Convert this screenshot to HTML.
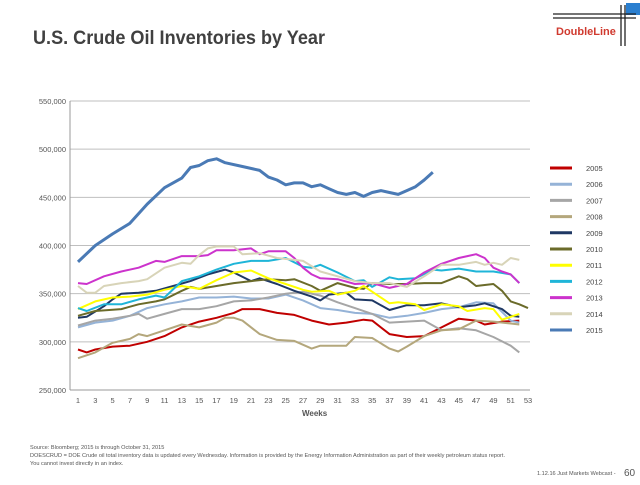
<!DOCTYPE html>
<html><head><meta charset="utf-8"><style>
body{margin:0;background:#fff;width:640px;height:480px;overflow:hidden;font-family:"Liberation Sans",sans-serif;}
svg text{font-family:"Liberation Sans",sans-serif;}
</style></head><body>
<svg id="c" width="640" height="480">
<text x="33" y="44" font-size="19" font-weight="bold" fill="#404040" textLength="292" lengthAdjust="spacingAndGlyphs">U.S. Crude Oil Inventories by Year</text>
<g>
<rect x="626" y="3" width="14" height="12" fill="#2a7fd0"/>
<line x1="553" y1="14" x2="636" y2="14" stroke="#222" stroke-width="1.3"/>
<line x1="553" y1="18" x2="636" y2="18" stroke="#222" stroke-width="1.3"/>
<line x1="621" y1="5" x2="621" y2="46" stroke="#222" stroke-width="1.3"/>
<line x1="625" y1="5" x2="625" y2="46" stroke="#222" stroke-width="1.3"/>
<text x="556" y="35" font-size="11" font-weight="bold" fill="#d03a2f">DoubleLine</text>
</g>
<g id="grid"></g><g id="axes"></g><g id="series"></g><g id="legend"></g>
<text x="302" y="416" font-size="8" font-weight="bold" fill="#555">Weeks</text>
<g font-size="5.6" fill="#555">
<text x="30" y="449">Source: Bloomberg; 2015 is through October 31, 2015</text>
<text x="30" y="457">DOESCRUD = DOE Crude oil total inventory data is updated every Wednesday. Information is provided by the Energy Information Administration as part of their weekly petroleum status report.</text>
<text x="30" y="465">You cannot invest directly in an index.</text>
</g>
<text x="537" y="475" font-size="5.6" fill="#555">1.12.16 Just Markets Webcast -</text>
<text x="624" y="476" font-size="10" fill="#555">60</text>
</svg>
<script>
const yTicks=[250000,300000,350000,400000,450000,500000,550000];
const yTickLabels=["250,000","300,000","350,000","400,000","450,000","500,000","550,000"];
const xTicks=[1,3,5,7,9,11,13,15,17,19,21,23,25,27,29,31,33,35,37,39,41,43,45,47,49,51,53];
const seriesNames=["2005","2006","2007","2008","2009","2010","2011","2012","2013","2014","2015"];
const seriesColors=["#c00000","#95b3d7","#a6a6a6","#b4a77c","#1f3864","#6b6b2a","#ffff00","#1fb5d8","#cc33cc","#d8d4b8","#4a7ab5"];
const w2005=[1,2,3,5,7,9,11,13,15,17,19,20,22,24,26,28,30,32,34,35,37,39,41,43,45,47,48,50,52];
const v2005=[292,289,292,295,296,300,306,315,321,325,330,334,334,330,328,322,318,320,323,322,308,305,306,315,324,322,318,321,322];
const w2006=[1,3,5,7,9,11,13,15,17,19,21,23,25,27,29,31,33,35,37,39,41,43,45,47,49,51,52];
const v2006=[315,320,322,327,335,339,342,346,346,347,345,345,349,343,335,333,330,329,325,327,330,334,336,341,340,322,320];
const w2007=[1,3,5,7,8,9,11,13,15,17,19,21,23,25,27,29,31,33,35,37,39,41,43,45,47,49,51,52];
const v2007=[317,322,324,327,329,324,329,334,334,337,342,343,346,350,352,348,341,335,329,320,321,322,312,314,312,305,296,289];
const w2008=[1,3,5,7,8,9,11,13,15,17,18,19,20,22,24,26,28,29,31,32,33,35,37,38,39,41,43,45,47,49,51,52];
const v2008=[283,289,299,303,308,306,312,318,315,320,325,325,322,308,302,301,293,296,296,296,305,304,293,290,295,306,312,313,322,321,319,318];
const w2009=[1,2,4,5,6,8,10,12,14,16,18,19,21,22,24,26,28,29,30,32,33,35,37,39,41,43,45,47,48,50,51,52];
const v2009=[325,326,337,344,350,351,353,358,363,370,375,372,363,366,360,353,347,343,349,351,344,343,333,338,338,340,336,338,340,334,327,326];
const w2010=[1,3,6,8,10,11,13,14,15,17,19,21,23,25,26,28,29,31,33,34,35,37,39,41,43,45,46,47,49,50,51,52,53];
const v2010=[327,332,334,339,342,344,353,357,355,358,361,363,365,364,365,358,353,361,356,355,361,360,360,361,361,368,365,358,360,353,342,339,335];
const w2011=[1,3,5,7,9,11,13,15,17,19,21,23,25,27,28,30,31,33,34,35,37,38,40,41,43,45,46,48,49,50,52];
const v2011=[334,342,346,347,349,354,358,355,364,372,374,366,360,354,352,353,349,353,358,352,340,341,339,333,339,337,332,335,334,323,329];
const w2012=[1,2,4,6,8,10,11,13,15,17,19,21,23,25,27,28,29,31,33,34,35,37,38,40,42,43,45,47,49,51,52];
const v2012=[335,332,339,339,344,348,346,363,368,375,381,384,384,387,378,377,380,372,363,364,357,367,365,366,375,374,376,373,373,370,361];
const w2013=[1,2,4,6,8,10,11,13,15,16,17,19,21,22,23,25,26,27,28,29,31,33,35,37,39,41,43,45,46,47,48,49,50,51,52];
const v2013=[361,360,368,373,377,384,383,389,389,390,395,395,397,391,394,394,387,377,370,366,365,360,361,356,360,372,381,387,389,391,387,377,373,370,361];
const w2014=[1,2,3,4,6,8,9,11,13,14,15,16,17,19,20,22,24,26,27,29,31,33,35,37,39,41,43,45,47,48,49,50,51,52];
const v2014=[358,351,351,358,361,363,365,377,382,381,390,397,399,399,391,392,387,385,384,373,368,363,361,361,357,368,380,380,383,380,382,380,387,385];
const w2015=[1,3,5,7,9,11,13,14,15,16,17,18,20,22,23,24,25,26,27,28,29,30,31,32,33,34,35,36,37,38,39,40,41,42];
const v2015=[383,400,412,423,443,460,470,481,483,488,490,486,482,478,471,468,463,465,465,461,463,459,455,453,455,451,455,457,455,453,457,461,468,476];
const seriesWeeks=[w2005,w2006,w2007,w2008,w2009,w2010,w2011,w2012,w2013,w2014,w2015];
const seriesVals=[v2005,v2006,v2007,v2008,v2009,v2010,v2011,v2012,v2013,v2014,v2015];

const NS="http://www.w3.org/2000/svg";
const X0=78,X1=528,Y0=390,Y1=101;
const xs=w=>X0+(w-1)*(X1-X0)/52;
const ys=v=>Y0-(v-250000)*(Y0-Y1)/300000;
function mk(t,a,p){const e=document.createElementNS(NS,t);for(const k in a)e.setAttribute(k,a[k]);p.appendChild(e);return e;}
const grid=document.getElementById('grid'),axes=document.getElementById('axes'),ser=document.getElementById('series'),leg=document.getElementById('legend');
yTicks.forEach((t,i)=>{
 if(i>0){const g=mk('line',{x1:70,x2:530,y1:ys(t),y2:ys(t),stroke:'#bfbfbf','stroke-width':1},grid);
 
 }
 const tx=mk('text',{x:66,y:ys(t)+3,'font-size':7.5,fill:'#555','text-anchor':'end'},axes);
 tx.textContent=yTickLabels[i];
 
 
});
const ax=mk('line',{x1:70,x2:530,y1:Y0,y2:Y0,stroke:'#999','stroke-width':1},axes);


const ay=mk('line',{x1:70,x2:70,y1:Y1,y2:Y0,stroke:'#999','stroke-width':1},axes);


xTicks.forEach(w=>{
 const tx=mk('text',{x:xs(w),y:403,'font-size':7.5,fill:'#555','text-anchor':'middle'},axes);
 tx.textContent=w;
 
 
});
seriesNames.forEach((n,i)=>{
 const pts=seriesWeeks[i].map((w,j)=>xs(w).toFixed(1)+','+ys(seriesVals[i][j]*1000).toFixed(1)).join(' ');
 const p=mk('polyline',{points:pts,fill:'none',stroke:seriesColors[i],'stroke-width':n==='2015'?3:2,'stroke-linejoin':'round'},ser);
 
 
 const y=168+i*16.2;
 const g=mk('g',{},leg);
 
 
 mk('line',{x1:550,x2:572,y1:y,y2:y,stroke:seriesColors[i],'stroke-width':3},g);
 const t=mk('text',{x:586,y:y+3,'font-size':7.5,fill:'#444'},g);
 t.textContent=n;
});
</script>
</body></html>
